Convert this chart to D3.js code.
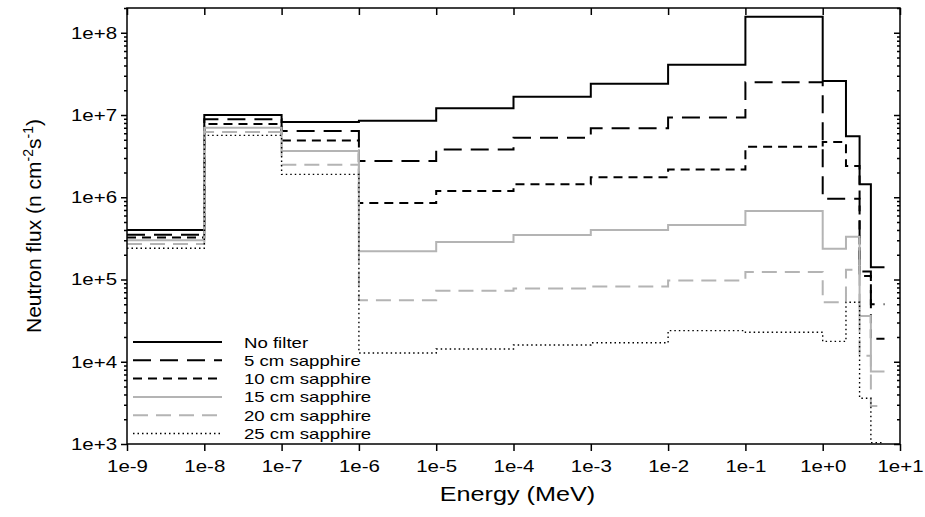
<!DOCTYPE html>
<html>
<head>
<meta charset="utf-8">
<script src="https://cdn.jsdelivr.net/npm/d3@7"></script>
<style>
  html, body { margin: 0; padding: 0; background: #fff; }
  svg { display: block; }
  text { font-family: "Liberation Sans", Arial, sans-serif; fill: #000; }
</style>
</head>
<body>
<svg id="chart" width="925" height="517"></svg>
<script>
// ---- data ----
const energyEdges = [1e-9, 1e-8, 1e-7, 1e-6, 1e-5, 1e-4, 1e-3, 1e-2, 1e-1, 1, 2, 3, 4.2, 6.3];
const seriesNames = ["No filter", "5 cm sapphire", "10 cm sapphire", "15 cm sapphire", "20 cm sapphire", "25 cm sapphire"];
const noFilter   = [4.0e5, 1.0e7, 8.2e6, 8.5e6, 1.21e7, 1.67e7, 2.4e7, 4.07e7, 1.57e8, 2.6e7, 5.5e6, 1.44e6, 1.41e5];
const sapphire5  = [3.5e5, 8.9e6, 6.4e6, 2.75e6, 3.82e6, 5.3e6, 6.9e6, 9.3e6, 2.5e7, 9.6e5, 9.6e5, 1.25e5, 5.0e4];
const sapphire10 = [3.25e5, 7.8e6, 4.9e6, 8.5e5, 1.19e6, 1.44e6, 1.75e6, 2.18e6, 4.1e6, 4.7e6, 2.4e6, 1.1e5, 1.9e4];
const sapphire15 = [3.0e5, 7.0e6, 3.64e6, 2.2e5, 2.85e5, 3.47e5, 4.0e5, 4.6e5, 6.8e5, 2.37e5, 3.3e5, 3.6e4, 7.6e3];
const sapphire20 = [2.7e5, 6.2e6, 2.48e6, 5.6e4, 7.3e4, 7.8e4, 8.2e4, 9.7e4, 1.23e5, 5.3e4, 1.31e5, 1.18e4, 2.9e3];
const sapphire25 = [2.4e5, 5.65e6, 1.9e6, 1.28e4, 1.43e4, 1.6e4, 1.7e4, 2.39e4, 2.28e4, 1.77e4, 5.3e4, 3.6e3, 1.04e3];
const xTickValues = [1e-9, 1e-8, 1e-7, 1e-6, 1e-5, 1e-4, 1e-3, 1e-2, 1e-1, 1e0, 1e1];
const xTickLabels = ["1e-9", "1e-8", "1e-7", "1e-6", "1e-5", "1e-4", "1e-3", "1e-2", "1e-1", "1e+0", "1e+1"];
const yTickValues = [1e3, 1e4, 1e5, 1e6, 1e7, 1e8];
const yTickLabels = ["1e+3", "1e+4", "1e+5", "1e+6", "1e+7", "1e+8"];

const seriesValues = [noFilter, sapphire5, sapphire10, sapphire15, sapphire20, sapphire25];
const seriesStyles = [
  { color: "#000", width: 2, dash: null },
  { color: "#000", width: 2, dash: "18,9" },
  { color: "#000", width: 2, dash: "9,6" },
  { color: "#b4b4b4", width: 2, dash: null },
  { color: "#b4b4b4", width: 2, dash: "15,8" },
  { color: "#000", width: 1.4, dash: "1.5,3" }
];

// ---- layout ----
const margin = { left: 127, right: 25, top: 8, bottom: 73 };
const W = 925, H = 517;
const svg = d3.select("#chart");
const x = d3.scaleLog().domain([1e-9, 1e1]).range([margin.left, W - margin.right]);
const y = d3.scaleLog().domain([1e3, 2e8]).range([H - margin.bottom, margin.top]);
const STRETCH = 1.24;

function stretch(sel, k) {
  sel.each(function() {
    const len = this.getComputedTextLength();
    d3.select(this).attr("textLength", len * k).attr("lengthAdjust", "spacingAndGlyphs");
  });
}

// minor y ticks
const yMinor = [];
for (let d = 3; d <= 8; d++) for (let m = 2; m <= 9; m++) { const v = m * Math.pow(10, d); if (v <= 2e8) yMinor.push(v); }

// ---- series ----
const line = d3.line().x(d => x(d[0])).y(d => y(d[1])).curve(d3.curveStepAfter);
seriesValues.forEach((vals, i) => {
  const pts = vals.map((v, j) => [energyEdges[j], v]);
  pts.push([energyEdges[vals.length], vals[vals.length - 1]]);
  const st = seriesStyles[i];
  svg.append("path").datum(pts)
    .attr("d", line)
    .attr("fill", "none")
    .attr("stroke", st.color)
    .attr("stroke-width", st.width)
    .attr("stroke-dasharray", st.dash)
    .attr("stroke-linejoin", "miter");
});

// ---- axes ----
const fmtX = d => xTickLabels[xTickValues.indexOf(d)];
const fmtY = d => yTickLabels[yTickValues.indexOf(d)];

const gB = svg.append("g").attr("transform", `translate(0,${H - margin.bottom})`)
  .call(d3.axisBottom(x).tickValues(xTickValues).tickFormat(fmtX).tickSizeInner(7).tickSizeOuter(0).tickPadding(9));
const gT = svg.append("g").attr("transform", `translate(0,${margin.top})`)
  .call(d3.axisTop(x).tickValues(xTickValues).tickFormat("").tickSizeInner(-7).tickSizeOuter(0));
const gL = svg.append("g").attr("transform", `translate(${margin.left},0)`)
  .call(d3.axisLeft(y).tickValues(yTickValues).tickFormat(fmtY).tickSizeInner(6).tickSizeOuter(0).tickPadding(4));
const gLm = svg.append("g").attr("transform", `translate(${margin.left},0)`)
  .call(d3.axisLeft(y).tickValues(yMinor).tickFormat("").tickSizeInner(3).tickSizeOuter(0));
const gR = svg.append("g").attr("transform", `translate(${W - margin.right},0)`)
  .call(d3.axisRight(y).tickValues(yTickValues).tickFormat("").tickSizeInner(-6).tickSizeOuter(0));
const gRm = svg.append("g").attr("transform", `translate(${W - margin.right},0)`)
  .call(d3.axisRight(y).tickValues(yMinor).tickFormat("").tickSizeInner(-3).tickSizeOuter(0));

[gB, gT, gL, gLm, gR, gRm].forEach(g => {
  g.select(".domain").remove();
  g.selectAll(".tick line").attr("stroke", "#000").attr("stroke-width", 1.5);
});
gB.selectAll(".tick text").attr("font-size", 16.5).attr("font-family", "Liberation Sans, Arial, sans-serif").call(stretch, STRETCH);
gL.selectAll(".tick text").attr("font-size", 16.5).attr("font-family", "Liberation Sans, Arial, sans-serif").call(stretch, STRETCH);

// frame
svg.append("rect")
  .attr("x", margin.left).attr("y", margin.top)
  .attr("width", W - margin.left - margin.right)
  .attr("height", H - margin.top - margin.bottom)
  .attr("fill", "none").attr("stroke", "#000").attr("stroke-width", 1.5);

// ---- titles ----
svg.append("text")
  .attr("x", (margin.left + W - margin.right) / 2 + 4)
  .attr("y", 501)
  .attr("text-anchor", "middle")
  .attr("font-size", 20)
  .text("Energy (MeV)")
  .call(stretch, 1.26);

const yt = svg.append("text")
  .attr("transform", `translate(41,${(margin.top + H - margin.bottom) / 2}) rotate(-90)`)
  .attr("text-anchor", "middle")
  .attr("font-size", 21);
yt.append("tspan").text("Neutron flux (n cm");
yt.append("tspan").attr("font-size", 14).attr("dy", -8).text("-2");
yt.append("tspan").attr("dy", 8).text("s");
yt.append("tspan").attr("font-size", 14).attr("dy", -8).text("-1");
yt.append("tspan").attr("dy", 8).text(")");

// ---- legend ----
const legX0 = 133, legX1 = 222, legY0 = 342, legDY = 18.3;
seriesNames.forEach((name, i) => {
  const st = seriesStyles[i];
  const yy = legY0 + i * legDY;
  svg.append("line")
    .attr("x1", legX0).attr("x2", legX1).attr("y1", yy).attr("y2", yy)
    .attr("stroke", st.color).attr("stroke-width", st.width)
    .attr("stroke-dasharray", st.dash);
  svg.append("text")
    .attr("x", 244).attr("y", yy + 5.5)
    .attr("font-size", 15)
    .text(name)
    .call(stretch, STRETCH);
});
</script>
</body>
</html>
